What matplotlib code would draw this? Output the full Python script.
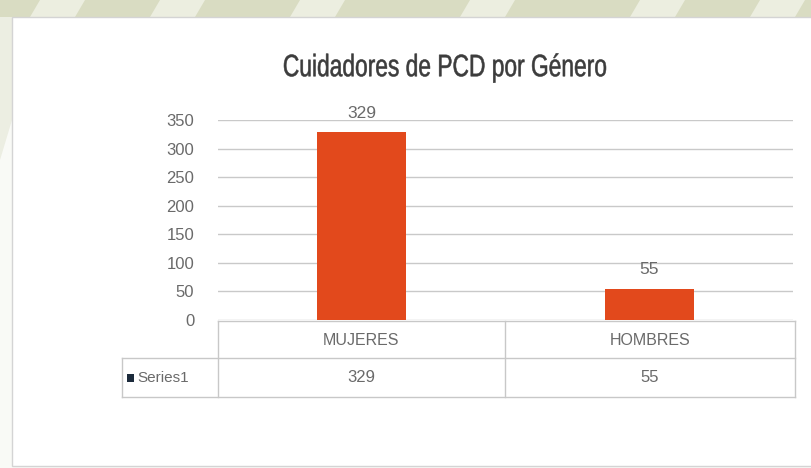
import matplotlib
matplotlib.use('Agg')
import matplotlib.pyplot as plt
from matplotlib.patches import Rectangle, Polygon, PathPatch
from matplotlib.lines import Line2D
from matplotlib.textpath import TextPath
from matplotlib.font_manager import FontProperties
from matplotlib.transforms import Affine2D

# data
categorias = ['MUJERES', 'HOMBRES']
valores = [329, 55]
serie = 'Series1'
titulo = 'Cuidadores de PCD por Género'
yticks = [0, 50, 100, 150, 200, 250, 300, 350]

W, H = 812, 468
plt.rcParams['font.family'] = ['Liberation Sans', 'DejaVu Sans']
txt = '#6a6a6a'

fig = plt.figure(figsize=(W / 100, H / 100), dpi=100)
fig.patch.set_facecolor('#f9faf6')


def px(x, y):
    # pixel coords (origin top-left) -> figure fraction
    return x / W, 1 - y / H


# olive band with pale diagonal stripes above the chart frame
fig.patches.append(Rectangle(px(0, 17), 1, 17 / H, transform=fig.transFigure,
                             facecolor='#d9dcc2', edgecolor='none', zorder=0))
for x0 in [40, 160, 300, 470, 640, 760]:
    pts = [px(x0, 0), px(x0 + 45, 0), px(x0 + 35, 17), px(x0 - 10, 17)]
    fig.patches.append(Polygon(pts, closed=True, transform=fig.transFigure,
                               facecolor='#eceee0', edgecolor='none', zorder=0))
fig.patches.append(Polygon([px(0, 17), px(12, 17), px(12, 120), px(0, 160)], closed=True,
                           transform=fig.transFigure, facecolor='#eceee2',
                           edgecolor='none', zorder=0))
# chart frame
fig.patches.append(Rectangle(px(12, 466), 800 / W, 449 / H, transform=fig.transFigure,
                             facecolor='white', edgecolor='#d4d4d4', lw=1.0, zorder=1))

ax = fig.add_axes([218 / W, 1 - 320 / H, (793 - 218) / W, 200 / H])
ax.set_zorder(2)
ax.patch.set_alpha(0)
x = list(range(len(categorias)))
ax.bar(x, valores, width=0.31, color='#e2491c', zorder=3)
ax.set_xlim(-0.5, len(categorias) - 0.5)
ax.set_ylim(0, 350)
ax.set_yticks(yticks)
ax.set_xticks([])
ax.grid(axis='y', color='#c9c9c9', lw=1.0, zorder=0)
for s in ax.spines.values():
    s.set_visible(False)
ax.tick_params(axis='y', length=0, pad=17, labelsize=12, labelcolor=txt)

for xi, v in zip(x, valores):
    ax.annotate(str(v), (xi, v), xytext=(0, 8), textcoords='offset points',
                ha='center', va='bottom', fontsize=12.5, color=txt)

# condensed title: text path squeezed horizontally to its width on the page
tp = TextPath((0, 0), titulo, size=31, prop=FontProperties(family='Liberation Sans'))
ext = tp.get_extents()
sx = 322.0 / ext.width
tx = 284 - ext.x0 * sx
ty = (H - 68) - (ext.y0 + ext.height / 2)
fig.patches.append(PathPatch(tp, transform=Affine2D().scale(sx, 1.0).translate(tx, ty),
                             facecolor='#3c3c3c', edgecolor='#3c3c3c', lw=0.4, zorder=3))

# data table under the plot
grid = '#c8c8c8'


def line(x1, y1, x2, y2):
    a, b = px(x1, y1)
    c, d = px(x2, y2)
    fig.lines.append(Line2D([a, c], [b, d], transform=fig.transFigure,
                            color=grid, lw=1.0, zorder=3))


left, x0, xm, x1 = 122, 218, 505, 795
y0, y1, y2 = 321, 358, 397
line(x0, y0, x1, y0)
line(left, y1, x1, y1)
line(left, y2, x1, y2)
line(left, y1, left, y2)
line(x0, y0, x0, y2)
line(xm, y0, xm, y2)
line(x1, y0, x1, y2)

cols = [(x0 + xm) / 2, (xm + x1) / 2]
for cx, cat, v in zip(cols, categorias, valores):
    fig.text(*px(cx, (y0 + y1) / 2 + 1), cat, ha='center', va='center',
             fontsize=11.5, color=txt)
    fig.text(*px(cx, (y1 + y2) / 2), str(v), ha='center', va='center',
             fontsize=12, color=txt)

fig.patches.append(Rectangle(px(127, 382), 7 / W, 8 / H, transform=fig.transFigure,
                             facecolor='#1c2b3c', edgecolor='none', zorder=3))
fig.text(*px(137, (y1 + y2) / 2), serie, ha='left', va='center',
         fontsize=11, color=txt)

fig.savefig('out.png', dpi=100)
